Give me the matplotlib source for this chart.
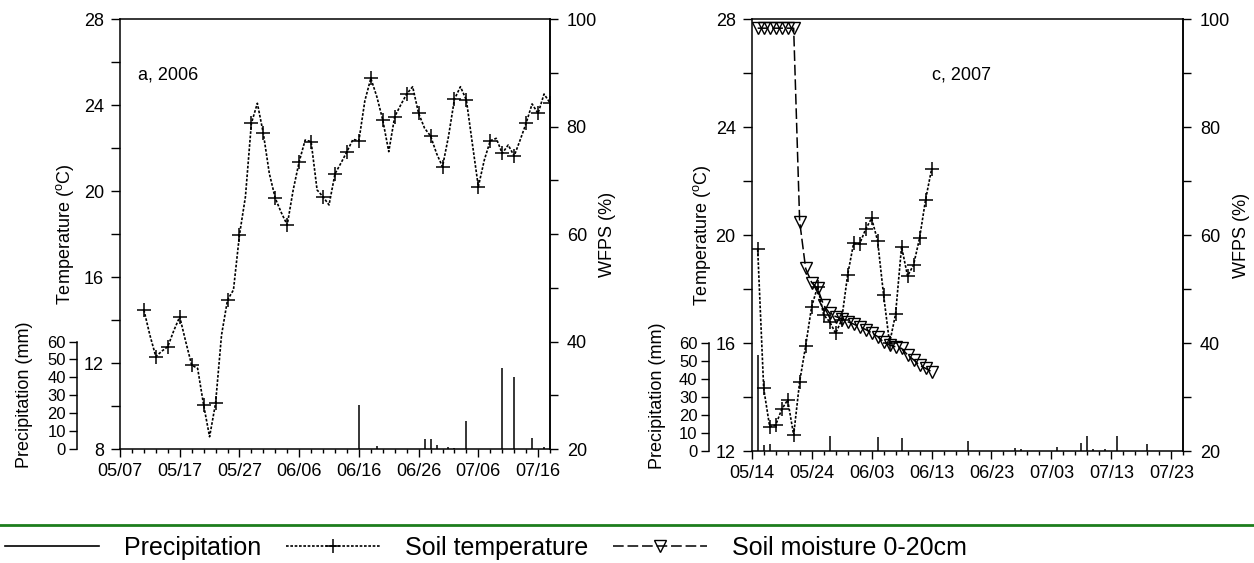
import numpy as np
import matplotlib
matplotlib.use('Agg')
import matplotlib.pyplot as plt
import matplotlib.dates as mdates
from matplotlib.lines import Line2D
from matplotlib.ticker import FixedLocator, MultipleLocator

plt.rcParams['font.family'] = ['Liberation Sans', 'DejaVu Sans']
plt.rcParams['mathtext.fontset'] = 'custom'
plt.rcParams['mathtext.rm'] = 'Liberation Sans'

# ---------------- data: 2006 (panel a) ----------------
start_2006 = '2006-05-07'
temp06_first_day = 4          # days after 05/07 of first temperature value (daily series)
temp06 = [14.47, 13.3, 12.3, 12.55, 12.76, 13.5, 14.15, 13.0, 11.9, 11.75,
          10.05, 8.57, 10.12, 13.3, 14.93, 15.4, 17.95, 19.73, 23.15, 24.08,
          22.68, 20.82, 19.66, 19.0, 18.42, 20.05, 21.36, 22.37, 22.3, 20.05,
          19.73, 19.35, 20.8, 21.3, 21.83, 22.4, 22.34, 24.2, 25.24, 24.39,
          23.3, 21.83, 23.46, 24.0, 24.51, 24.85, 23.61, 22.92, 22.56, 21.75,
          21.13, 22.53, 24.27, 24.85, 24.23, 22.2, 20.2, 21.44, 22.34, 22.45,
          21.75, 22.14, 21.63, 22.37, 23.15, 24.05, 23.61, 24.51, 24.1]
precip06_days = [40, 43, 51, 52, 53, 55, 56, 58, 64, 66, 69, 71]
precip06_mm = [24.4, 1.5, 5.4, 5.7, 2.2, 1.3, 0.8, 15.6, 45.2, 40.4, 5.9, 1.1]
xticks06 = ['05/07', '05/17', '05/27', '06/06', '06/16', '06/26', '07/06', '07/16']

# ---------------- data: 2007 (panel c) ----------------
start_2007 = '2007-05-14'
temp07_first_day = 1
temp07 = [19.47, 14.32, 12.9, 12.96, 13.54, 13.89, 12.59, 14.57, 15.89, 17.35,
          18.09, 17.04, 16.79, 16.36, 16.85, 18.52, 19.69, 19.67, 20.21, 20.62,
          19.79, 17.78, 15.99, 17.07, 19.57, 18.48, 18.89, 19.88, 21.3, 22.43]
moist07_first_day = 1
moist07 = [98.3, 98.3, 98.3, 98.3, 98.3, 98.3, 98.3, 62.5, 53.8, 51.2,
           50.1, 47.0, 45.5, 44.9, 44.5, 43.95, 43.5, 43.0, 42.5, 41.9,
           41.2, 40.2, 39.6, 39.3, 39.0, 37.8, 36.9, 35.9, 35.3, 34.7]
precip07_days = [1, 2, 3, 13, 21, 25, 36, 44, 45, 51, 55, 56, 57, 59, 61, 66]
precip07_mm = [53.5, 3.3, 3.9, 8.3, 8.0, 7.0, 5.7, 1.5, 1.0, 2.2, 4.3, 8.3, 1.0, 1.2, 8.3, 3.7]
xticks07 = ['05/14', '05/24', '06/03', '06/13', '06/23', '07/03', '07/13', '07/23']

span_days = 72

W, H = 1254, 563
fig = plt.figure(figsize=(W / 100, H / 100), dpi=100)

FS = 13
temp_style = dict(color='black', lw=1.2, linestyle=(0, (1.6, 1.0)))
moist_style = dict(color='black', lw=1.1, linestyle=(0, (7, 2.5)))
plus_style = dict(marker='+', markersize=9.5, markeredgewidth=1.1, markeredgecolor='black')
tri_style = dict(marker='v', markersize=9, markeredgewidth=1.0, markerfacecolor='none',
                 markeredgecolor='black')


def to_num(start, days):
    d = np.datetime64(start) + np.asarray(days).astype('timedelta64[D]')
    return mdates.date2num(d.astype('datetime64[D]').astype(object))


def panel(rect, start, year, tlim, tmajor, temp, temp_first, mark_every,
          pdays, pmm, xticklabels, tag, tag_x, moist=None, moist_first=None,
          lab_t_x=-0.128, lab_p_x=-0.223, lab_w_x=1.133):
    ax = fig.add_axes(rect)
    ax_w = ax.twinx()
    ax_p = ax.twinx()

    x0 = to_num(start, 0)
    ax.set_xlim(x0, to_num(start, span_days))

    # temperature
    tdays = temp_first + np.arange(len(temp))
    ax.plot(to_num(start, tdays), temp, markevery=mark_every, zorder=5,
            **temp_style, **plus_style)
    ax.set_ylim(*tlim)
    ax.yaxis.set_major_locator(MultipleLocator(tmajor))
    ax.yaxis.set_minor_locator(MultipleLocator(tmajor / 2))
    ax.tick_params(axis='y', which='both', direction='out', length=6.5, width=1.0,
                   labelsize=FS, pad=5)
    ax.set_ylabel(r'Temperature ($\mathregular{^o}$C)', fontsize=FS, va='center')
    ax.yaxis.set_label_coords(lab_t_x, 0.5)

    # x axis ticks from labels
    tick_pos = [mdates.date2num(np.datetime64(f"{year}-{s[:2]}-{s[3:]}").astype(object))
                for s in xticklabels]
    ax.xaxis.set_major_locator(FixedLocator(tick_pos))
    ax.set_xticklabels(xticklabels)
    ax.xaxis.set_minor_locator(FixedLocator(to_num(start, np.arange(0, span_days + 1, 2))))
    ax.tick_params(axis='x', which='major', direction='out', length=6, width=1.0,
                   labelsize=FS, pad=4)
    ax.tick_params(axis='x', which='minor', direction='out', length=3, width=1.0)
    for s in ax.spines.values():
        s.set_linewidth(1.1)

    # WFPS axis
    ax_w.set_ylim(20, 100)
    ax_w.yaxis.set_major_locator(MultipleLocator(20))
    ax_w.yaxis.set_minor_locator(MultipleLocator(10))
    ax_w.tick_params(axis='y', which='both', direction='out', length=6, width=1.0,
                     labelsize=FS, pad=6)
    ax_w.set_ylabel('WFPS (%)', fontsize=FS, va='center', rotation=90)
    ax_w.yaxis.set_label_coords(lab_w_x, 0.5)
    for k in ['left', 'top', 'bottom']:
        ax_w.spines[k].set_visible(False)
    ax_w.spines['right'].set_linewidth(1.1)
    if moist is not None:
        mdays = moist_first + np.arange(len(moist))
        ax_w.plot(to_num(start, mdays), moist, zorder=4, **moist_style, **tri_style)

    # precipitation axis
    ax_p.set_ylim(0, 240)
    ax_p.vlines(to_num(start, pdays), 0, pmm, color='black', lw=1.1)
    for k in ['right', 'top', 'bottom']:
        ax_p.spines[k].set_visible(False)
    ax_p.spines['left'].set_visible(True)
    ax_p.spines['left'].set_position(('outward', 31))
    ax_p.spines['left'].set_bounds(0, 60)
    ax_p.spines['left'].set_linewidth(1.1)
    ax_p.yaxis.set_ticks_position('left')
    ax_p.yaxis.set_label_position('left')
    ax_p.yaxis.set_major_locator(FixedLocator(np.arange(0, 61, 10)))
    ax_p.tick_params(axis='y', direction='out', length=6, width=1.0, labelsize=12, pad=2)
    ax_p.set_ylabel('Precipitation (mm)', fontsize=FS, va='center')
    ax_p.yaxis.set_label_coords(lab_p_x, 0.127)

    ax.text(tag_x, 0.87, tag, transform=ax.transAxes, fontsize=FS, va='center', ha='left')
    return ax


panel([120 / W, 1 - 449 / H, 430 / W, 430 / H], start_2006, 2006, (8, 28), 4,
      temp06, temp06_first_day, 2, precip06_days, precip06_mm, xticks06,
      'a, 2006', 0.042)

panel([751.7 / W, 1 - 451 / H, 431.6 / W, 432 / H], start_2007, 2007, (12, 28), 4,
      temp07, temp07_first_day, 1, precip07_days, precip07_mm, xticks07,
      'c, 2007', 0.418, moist=moist07, moist_first=moist07_first_day,
      lab_t_x=-0.115, lab_p_x=-0.219, lab_w_x=1.134)

# separator line and legend
fig.add_artist(Line2D([0, 1], [1 - 525 / H, 1 - 525 / H], transform=fig.transFigure,
                      color='#1d7d1d', lw=2.0))
handles = [Line2D([], [], color='black', lw=1.2),
           Line2D([], [], **temp_style, **plus_style),
           Line2D([], [], **moist_style, **tri_style)]
labels = ['Precipitation', 'Soil temperature', 'Soil moisture 0-20cm']
fig.legend(handles, labels, loc='center left', bbox_to_anchor=(5 / W, 1 - 548 / H),
           ncol=3, frameon=False, fontsize=18, handlelength=3.75, handletextpad=1.0,
           columnspacing=1.0, borderpad=0, borderaxespad=0, numpoints=1)

fig.savefig('out.png', dpi=100)
